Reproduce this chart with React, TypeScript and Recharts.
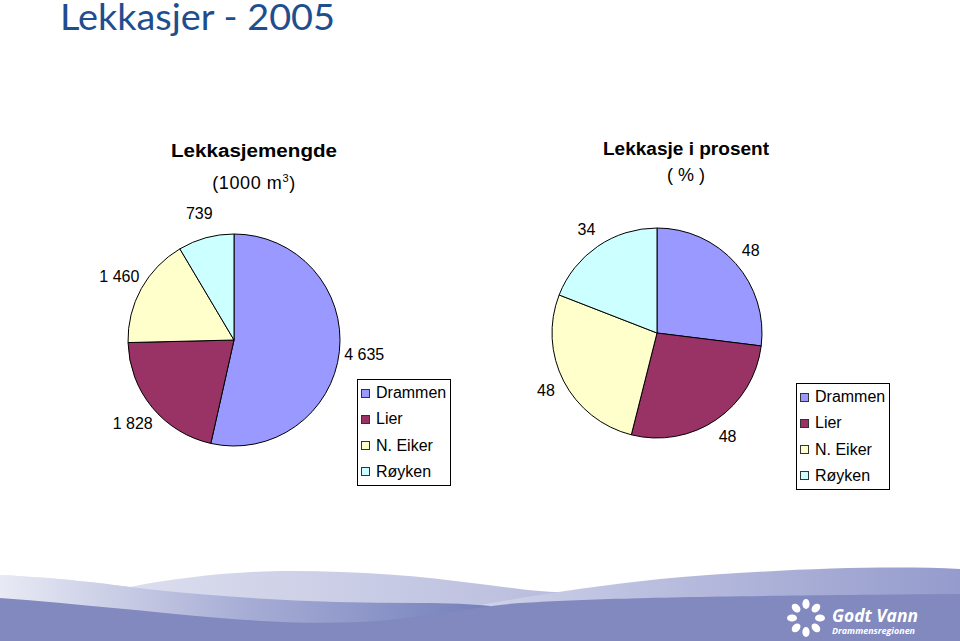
import React from "react";
import { PieChart, Pie, Cell, Legend } from "recharts";

// kommuner, lekkasjemengde (1000 m3) og lekkasje i prosent
const municipalities = ["Drammen", "Lier", "N. Eiker", "Røyken"];
const leakageVolume = [4635, 1828, 1460, 739];
const leakagePercent = [48, 48, 48, 34];
const sliceColors = ["#9999FF", "#993366", "#FFFFCC", "#CCFFFF"];

const volumeData = municipalities.map((name, i) => ({ name, value: leakageVolume[i] }));
const percentData = municipalities.map((name, i) => ({ name, value: leakagePercent[i] }));

const ARIAL = '"Liberation Sans", Arial, sans-serif';
const RAD = Math.PI / 180;

const formatNumber = (v: number) => String(v).replace(/\B(?=(\d{3})+(?!\d))/g, " ");

const makeLabel = (offset: number) => (props: any) => {
  const { cx, cy, midAngle, outerRadius, value } = props;
  const r = outerRadius + offset;
  const x = cx + r * Math.cos(-midAngle * RAD);
  const y = cy + r * Math.sin(-midAngle * RAD);
  return (
    <text
      x={x}
      y={y}
      textAnchor="middle"
      dominantBaseline="central"
      fontSize={16}
      fontFamily={ARIAL}
      fill="#000"
    >
      {formatNumber(value)}
    </text>
  );
};

const LegendBox = () => (
  <div
    style={{
      border: "1px solid #000",
      width: 94,
      height: 107,
      boxSizing: "border-box",
      background: "#fff",
      fontFamily: ARIAL,
      fontSize: 16,
      lineHeight: 1,
      color: "#000",
    }}
  >
    {municipalities.map((name, i) => (
      <div
        key={name}
        style={{ height: 26.25, display: "flex", alignItems: "center", paddingLeft: 3 }}
      >
        <span
          style={{
            display: "inline-block",
            width: 7,
            height: 7,
            border: "1px solid #333",
            background: sliceColors[i],
            marginRight: 6,
          }}
        />
        <span>{name}</span>
      </div>
    ))}
  </div>
);

const Decoration = () => (
  <svg width={960} height={641} style={{ position: "absolute", left: 0, top: 0 }}>
    <defs>
      <linearGradient id="gBack" x1="0" x2="560" y1="0" y2="0" gradientUnits="userSpaceOnUse">
        <stop offset="0" stopColor="#E6E8F3" />
        <stop offset="1" stopColor="#B9BDDD" />
      </linearGradient>
      <linearGradient id="gRight" x1="420" x2="960" y1="0" y2="0" gradientUnits="userSpaceOnUse">
        <stop offset="0" stopColor="#D6D9ED" />
        <stop offset="1" stopColor="#959BCC" />
      </linearGradient>
      <linearGradient id="gLeft" x1="0" x2="490" y1="0" y2="0" gradientUnits="userSpaceOnUse">
        <stop offset="0" stopColor="#E8EAF4" />
        <stop offset="0.5" stopColor="#A7ADD5" />
        <stop offset="1" stopColor="#7480BB" />
      </linearGradient>
    </defs>
    <path
      d="M0,575 C60,578 100,583 130,587 C180,577 240,571 290,571 C360,571 420,576 480,584 C520,589 540,592 560,592 L560,641 L0,641 Z"
      fill="url(#gBack)"
    />
    <path
      d="M380,626 C470,605 560,590 660,579 C760,570 880,565 960,569 L960,641 L380,641 Z"
      fill="url(#gRight)"
    />
    <path
      d="M0,575 C60,578 100,583 130,587 C220,598 320,603 420,603 C450,603 470,604 490,606 L490,641 L0,641 Z"
      fill="url(#gLeft)"
    />
    <path
      d="M0,598 C80,604 150,612 220,618 C270,622 310,624 360,622 C420,619 460,608 520,603 C600,598 700,596 960,594 L960,641 L0,641 Z"
      fill="#8189BF"
    />
    {[0, 45, 90, 135, 180, 225, 270, 315].map((a) => {
      const x = 806 + 14 * Math.cos((a - 90) * RAD);
      const y = 618 + 14 * Math.sin((a - 90) * RAD);
      return (
        <ellipse
          key={a}
          cx={x}
          cy={y}
          rx={3.6}
          ry={5}
          transform={`rotate(${a} ${x} ${y})`}
          fill="#fff"
        />
      );
    })}
    <text
      x={832}
      y={622}
      fontSize={18}
      fontStyle="italic"
      fontWeight="bold"
      fontFamily='"Open Sans", sans-serif'
      fill="#fff"
      textLength={86}
      lengthAdjust="spacingAndGlyphs"
    >
      Godt Vann
    </text>
    <text
      x={832}
      y={634}
      fontSize={8.5}
      fontStyle="italic"
      fontWeight="bold"
      fontFamily='"Open Sans", sans-serif'
      fill="#fff"
      textLength={83}
      lengthAdjust="spacingAndGlyphs"
    >
      Drammensregionen
    </text>

    <text
      x={60}
      y={30}
      fontSize={36}
      fontFamily="Lato, sans-serif"
      fill="#1F4E8F"
      textLength={275}
      lengthAdjust="spacingAndGlyphs"
    >
      Lekkasjer - 2005
    </text>

    <text
      x={254}
      y={157}
      textAnchor="middle"
      fontSize={18}
      fontWeight="bold"
      fontFamily={ARIAL}
      textLength={166}
      lengthAdjust="spacingAndGlyphs"
    >
      Lekkasjemengde
    </text>
    <text
      x={254}
      y={189}
      textAnchor="middle"
      fontSize={18}
      fontFamily={ARIAL}
      letterSpacing={0.6}
    >
      (1000 m
      <tspan dy={-7} fontSize={11}>
        3
      </tspan>
      <tspan dy={7}>)</tspan>
    </text>

    <text
      x={686}
      y={155}
      textAnchor="middle"
      fontSize={18}
      fontWeight="bold"
      fontFamily={ARIAL}
      textLength={166}
      lengthAdjust="spacingAndGlyphs"
    >
      Lekkasje i prosent
    </text>
    <text x={686} y={181} textAnchor="middle" fontSize={18} fontFamily={ARIAL}>
      ( % )
    </text>
  </svg>
);

export default function App() {
  return (
    <div
      style={{
        position: "absolute",
        left: 0,
        top: 0,
        width: 960,
        height: 641,
        background: "#fff",
        overflow: "hidden",
      }}
    >
      <Decoration />
      <div style={{ position: "absolute", left: 0, top: 0 }}>
        <PieChart width={480} height={520} margin={{ top: 0, right: 0, bottom: 0, left: 0 }}>
          <Pie
            data={volumeData}
            dataKey="value"
            nameKey="name"
            cx={234}
            cy={340}
            outerRadius={106}
            startAngle={90}
            endAngle={-270}
            stroke="#000"
            strokeWidth={1}
            label={makeLabel(25)}
            labelLine={false}
            isAnimationActive={false}
          >
            {volumeData.map((d, i) => (
              <Cell key={d.name} fill={sliceColors[i]} />
            ))}
          </Pie>
          <Legend
            layout="vertical"
            align="right"
            verticalAlign="middle"
            content={<LegendBox />}
            wrapperStyle={{ left: 357, top: 379, width: 94, height: 107 }}
          />
        </PieChart>
      </div>
      <div style={{ position: "absolute", left: 480, top: 0 }}>
        <PieChart width={480} height={520} margin={{ top: 0, right: 0, bottom: 0, left: 0 }}>
          <Pie
            data={percentData}
            dataKey="value"
            nameKey="name"
            cx={177}
            cy={333}
            outerRadius={105}
            startAngle={90}
            endAngle={-270}
            stroke="#000"
            strokeWidth={1}
            label={makeLabel(20)}
            labelLine={false}
            isAnimationActive={false}
          >
            {percentData.map((d, i) => (
              <Cell key={d.name} fill={sliceColors[i]} />
            ))}
          </Pie>
          <Legend
            layout="vertical"
            align="right"
            verticalAlign="middle"
            content={<LegendBox />}
            wrapperStyle={{ left: 316, top: 383, width: 94, height: 107 }}
          />
        </PieChart>
      </div>
    </div>
  );
}
